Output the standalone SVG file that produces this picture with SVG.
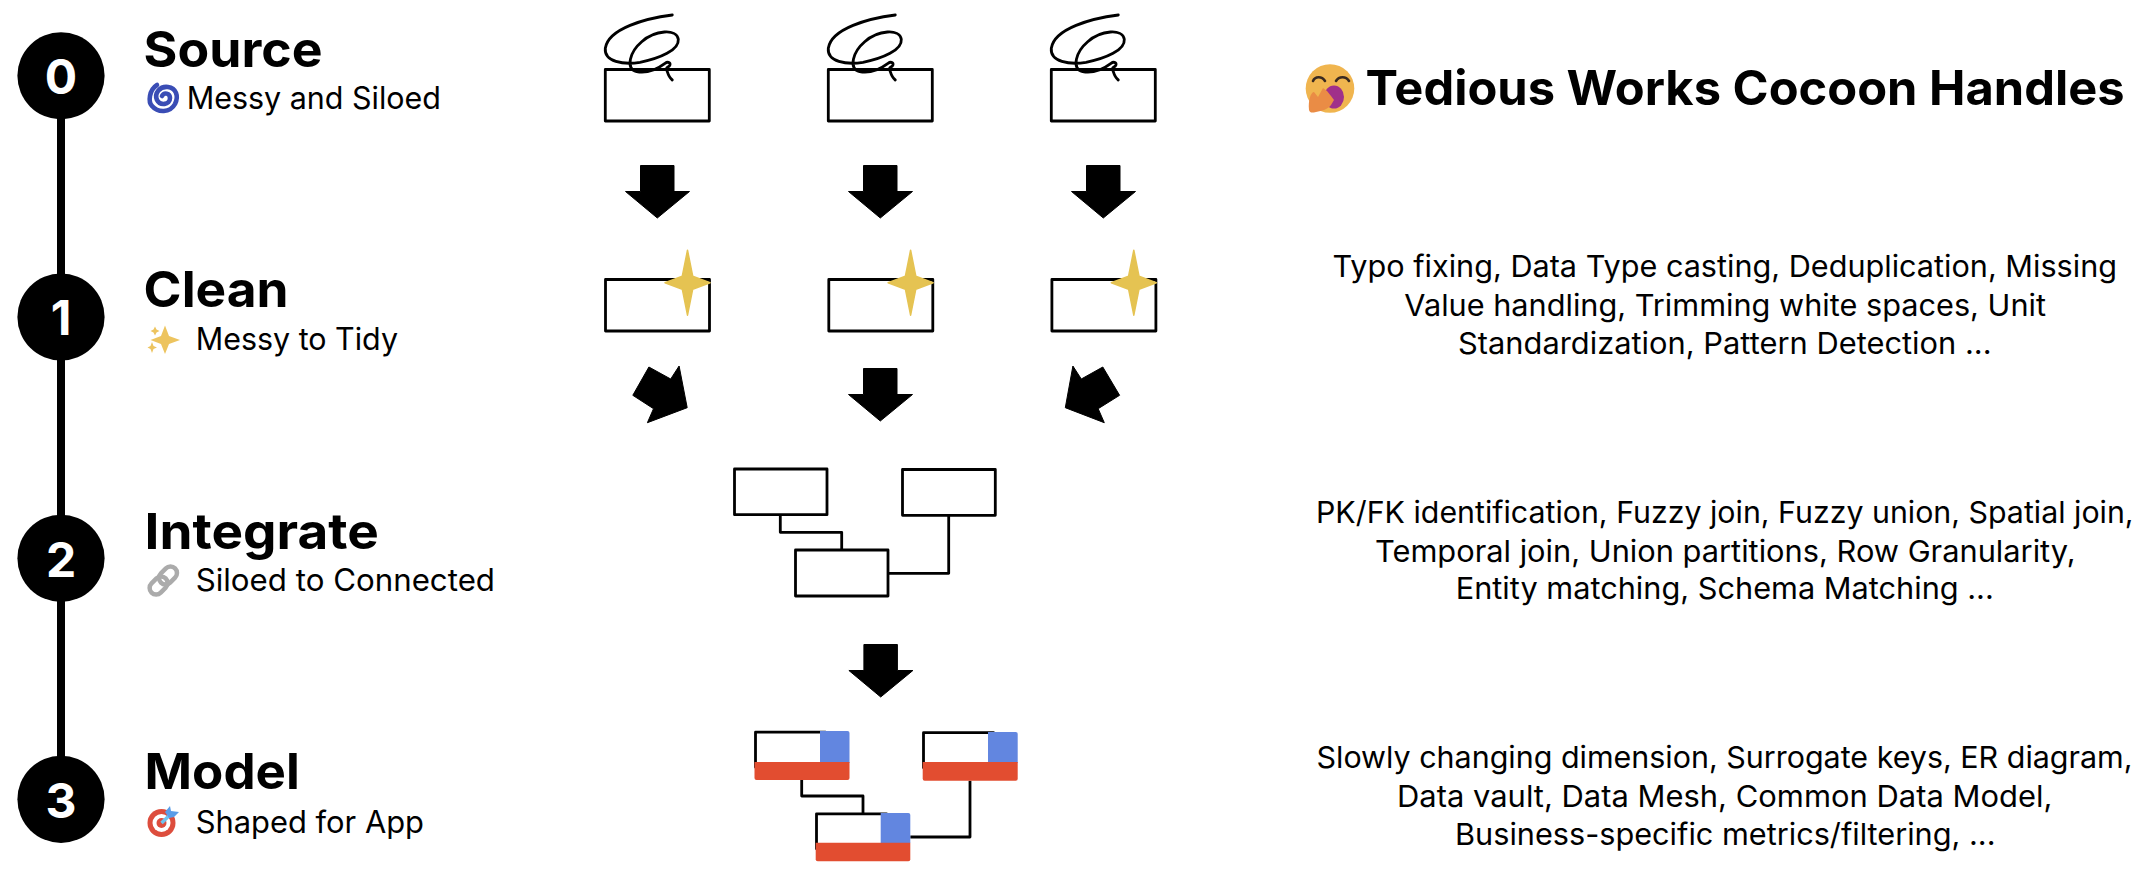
<svg xmlns="http://www.w3.org/2000/svg" xmlns:xlink="http://www.w3.org/1999/xlink" width="2146" height="878" viewBox="0 0 2146 878">
<style>
text{font-family:"Inter","Noto Sans","Liberation Sans",sans-serif;fill:#000}
.num{font-size:48px;font-weight:700;fill:#fff;text-anchor:middle}
.title{font-size:50px;font-weight:700}
.sub{font-size:31px;font-weight:400}
.head{font-size:48px;font-weight:700}
.desc{font-size:30px;font-weight:400}
.box{fill:#fff;stroke:#000;stroke-width:2.8;stroke-linejoin:round}
.wire{fill:none;stroke:#000;stroke-width:2.8;stroke-linejoin:round}
.arrow{fill:#000;stroke:#000;stroke-width:1;stroke-linejoin:round}
.star{fill:#E5C352;stroke:#E5C352;stroke-width:1.5;stroke-linejoin:round}
.blue{fill:#6286E0}
.red{fill:#E24D30}
</style>
<defs>
<path id="scribble" fill="none" stroke="#000" stroke-width="2.8" stroke-linecap="round" d="M672.300 15C646 18.300 608.300 28.300 605.300 48.300C604 61.700 623.300 65 640 62.300C660 58.300 679.300 50 678.300 39.300C676.700 28.300 655 30 641.700 41.700C630 51.700 625 68.300 636.700 71.700C648.300 74 658.300 68.300 665 63.300C668.300 61 671.700 63.300 669.300 66C667.300 68.300 665 66.700 667.300 71.700C668.300 75 670 78.300 672.300 80"/>
<path id="arrow-down" class="arrow" d="M640.500 165.500H674V191.500H689.500L657.300 218L625.500 191.500H640.500Z"/>
<path id="star4" class="star" d="M0-32.500L5.200-6.500L22.500 0L5.200 6.500L0 32.500L-5.200 6.500L-22.500 0L-5.200-6.500Z"/>
</defs>

<g id="connectors">
<line id="timeline" x1="61" y1="76" x2="61" y2="799" stroke="#000" stroke-width="8"/>
<use id="arrow-s-1" xlink:href="#arrow-down" href="#arrow-down"/>
<use id="arrow-s-2" xlink:href="#arrow-down" href="#arrow-down" x="223"/>
<use id="arrow-s-3" xlink:href="#arrow-down" href="#arrow-down" x="446"/>
<path id="arrow-c-1" class="arrow" d="M648.900 367L670.700 379L679.100 366L687.200 407.700L647.400 422.700L653.500 408.700L632.800 395.300Z"/>
<use id="arrow-c-2" xlink:href="#arrow-down" href="#arrow-down" x="223" y="203"/>
<path id="arrow-c-3" class="arrow" d="M1102.800 367L1081.300 379L1072.900 366L1065.300 407.700L1104.300 422.700L1098.200 408.700L1119.600 395.300Z"/>
<use id="arrow-i" xlink:href="#arrow-down" href="#arrow-down" x="223.400" y="479"/>
<path id="wire-i-a" class="wire" d="M780.300 514.700V532.300H841.700V550"/>
<path id="wire-i-b" class="wire" d="M948.700 515.300V573.300H888"/>
<path id="wire-m-a" class="wire" d="M801.700 780V796H863V813.300"/>
<path id="wire-m-b" class="wire" d="M970 780.700V837H910.300"/>
</g>

<g id="step-0">
<circle cx="61" cy="75.800" r="43.600" fill="#000"/>
<text class="num" x="61" y="94.300">0</text>
<text class="title" x="143.600" y="66.700" textLength="179" lengthAdjust="spacingAndGlyphs">Source</text>
<g id="icon-spiral" fill="none" stroke="#3A4DB5" stroke-linecap="round">
<path stroke-width="4.600" d="M157 85C149 90 148 102 152 106C158 113 170 113 175 104C179 96 176 88 168 87C160 86 154 93 157 100C160 106 170 105 170 98C170 93 164 92 162 96"/>
</g>
<text class="sub" x="186.700" y="109.300" textLength="254.300" lengthAdjust="spacingAndGlyphs">Messy and Siloed</text>
</g>

<g id="step-1">
<circle cx="61" cy="317" r="43.600" fill="#000"/>
<text class="num" x="61" y="335.300">1</text>
<text class="title" x="143.600" y="307.300" textLength="145" lengthAdjust="spacingAndGlyphs">Clean</text>
<g id="icon-sparkles" fill="#EDC45F">
<path d="M165 325.500L169 336L180 340L169 344L165 354L161 344L150.500 340L161 336Z"/>
<path d="M155 326.500L156.500 329.500L159.500 331L156.500 332.500L155 335.500L153.500 332.500L150.500 331L153.500 329.500Z"/>
<path d="M152 342L153.500 346L157 347.500L153.500 349L152 353L150.500 349L147.500 347.500L150.500 346Z"/>
</g>
<text class="sub" x="195.700" y="350" textLength="202.300" lengthAdjust="spacingAndGlyphs">Messy to Tidy</text>
</g>

<g id="step-2">
<circle cx="61" cy="558.300" r="43.600" fill="#000"/>
<text class="num" x="61" y="576.700">2</text>
<text class="title" x="144.600" y="548.700" textLength="234.200" lengthAdjust="spacingAndGlyphs">Integrate</text>
<g id="icon-link" fill="none" stroke="#ABABAB" stroke-width="4.500">
<rect x="-10" y="-6.500" width="20" height="13" rx="6.500" transform="translate(158.600 585.500) rotate(-45)"/>
<rect x="-10" y="-6.500" width="20" height="13" rx="6.500" transform="translate(168 575.500) rotate(-45)"/>
</g>
<text class="sub" x="195.700" y="591.300" textLength="299.300" lengthAdjust="spacingAndGlyphs">Siloed to Connected</text>
</g>

<g id="step-3">
<circle cx="61" cy="799.300" r="43.600" fill="#000"/>
<text class="num" x="61" y="817.700">3</text>
<text class="title" x="144.600" y="789.300" textLength="155.200" lengthAdjust="spacingAndGlyphs">Model</text>
<g id="icon-target">
<circle cx="161.500" cy="823" r="14" fill="#DD4D3D"/>
<circle cx="161.500" cy="823" r="9" fill="#fff"/>
<circle cx="161.500" cy="823" r="5" fill="#DD4D3D"/>
<path d="M161.500 823L172 813" stroke="#6FC3F0" stroke-width="3.500"/>
<path d="M165 812L170 806L171 811L179 812L174 817L169 818Z" fill="#5B9DE8"/>
</g>
<text class="sub" x="195.700" y="832.700" textLength="228.300" lengthAdjust="spacingAndGlyphs">Shaped for App</text>
</g>

<g id="source-tables">
<g id="source-1"><rect class="box" x="605.300" y="69.500" width="104" height="51.500"/><use xlink:href="#scribble" href="#scribble"/></g>
<g id="source-2"><rect class="box" x="828.300" y="69.500" width="104" height="51.500"/><use xlink:href="#scribble" href="#scribble" x="223"/></g>
<g id="source-3"><rect class="box" x="1051.300" y="69.500" width="104" height="51.500"/><use xlink:href="#scribble" href="#scribble" x="446"/></g>
</g>

<g id="clean-tables">
<g id="clean-1"><rect class="box" x="605.500" y="279.500" width="104" height="51.500"/><use xlink:href="#star4" href="#star4" x="687.500" y="282.700"/></g>
<g id="clean-2"><rect class="box" x="828.800" y="279.500" width="104" height="51.500"/><use xlink:href="#star4" href="#star4" x="910.600" y="282.700"/></g>
<g id="clean-3"><rect class="box" x="1051.900" y="279.500" width="104" height="51.500"/><use xlink:href="#star4" href="#star4" x="1133.800" y="282.700"/></g>
</g>

<g id="integrate-tables">
<rect id="integrate-a" class="box" x="734.500" y="469" width="92.500" height="45.700"/>
<rect id="integrate-b" class="box" x="902.500" y="469.500" width="92.800" height="45.800"/>
<rect id="integrate-c" class="box" x="795.500" y="550" width="92.500" height="46"/>
</g>

<g id="model-a">
<rect class="box" x="755.500" y="732.200" width="70" height="35"/>
<path class="blue" d="M820 731H847.500a2 2 0 0 1 2 2V763H820Z"/>
<path class="red" d="M754.500 762H849.500V778a2 2 0 0 1-2 2H756.500a2 2 0 0 1-2-2Z"/>
</g>
<g id="model-b">
<rect class="box" x="923.500" y="732.700" width="70" height="35"/>
<path class="blue" d="M988 732H1015.700a2 2 0 0 1 2 2V763H988Z"/>
<path class="red" d="M922.700 762H1017.700V778.700a2 2 0 0 1-2 2H924.700a2 2 0 0 1-2-2Z"/>
</g>
<g id="model-c">
<rect class="box" x="816.500" y="813.800" width="70" height="35"/>
<path class="blue" d="M880.700 813H908.300a2 2 0 0 1 2 2V843H880.700Z"/>
<path class="red" d="M815.700 842.700H910.300V859.300a2 2 0 0 1-2 2H817.700a2 2 0 0 1-2-2Z"/>
</g>

<g id="header">
<g id="icon-yawn">
<circle cx="1330" cy="88.500" r="24.300" fill="#F0B54F"/>
<path d="M1313 81C1315 76 1322 76 1325 81M1336 81C1339 76 1346 76 1349 81" fill="none" stroke="#3A2A20" stroke-width="2.600" stroke-linecap="round"/>
<ellipse cx="1334" cy="97" rx="10" ry="11.500" fill="#A0308A"/>
<path d="M1309 110C1308 100 1311 92 1314 92L1318 97L1323 88L1327 91L1331 96L1334 100L1331 105C1328 109 1322 111 1316 112C1312 113 1310 113 1309 110Z" fill="#EA8C45"/>
</g>
<text class="head" x="1365.600" y="105" textLength="759" lengthAdjust="spacingAndGlyphs">Tedious Works Cocoon Handles</text>
</g>

<g id="desc-clean">
<text class="desc" x="1332.500" y="277" textLength="784.500" lengthAdjust="spacingAndGlyphs">Typo fixing, Data Type casting, Deduplication, Missing</text>
<text class="desc" x="1404.300" y="316" textLength="641.700" lengthAdjust="spacingAndGlyphs">Value handling, Trimming white spaces, Unit</text>
<text class="desc" x="1458" y="354" textLength="533.600" lengthAdjust="spacingAndGlyphs">Standardization, Pattern Detection ...</text>
</g>
<g id="desc-integrate">
<text class="desc" x="1316" y="522.700" textLength="817.600" lengthAdjust="spacingAndGlyphs">PK/FK identification, Fuzzy join, Fuzzy union, Spatial join,</text>
<text class="desc" x="1375" y="561.700" textLength="700.600" lengthAdjust="spacingAndGlyphs">Temporal join, Union partitions, Row Granularity,</text>
<text class="desc" x="1455.700" y="599.300" textLength="538.100" lengthAdjust="spacingAndGlyphs">Entity matching, Schema Matching ...</text>
</g>
<g id="desc-model">
<text class="desc" x="1316.500" y="768.300" textLength="816" lengthAdjust="spacingAndGlyphs">Slowly changing dimension, Surrogate keys, ER diagram,</text>
<text class="desc" x="1397" y="806.700" textLength="655.400" lengthAdjust="spacingAndGlyphs">Data vault, Data Mesh, Common Data Model,</text>
<text class="desc" x="1455" y="845" textLength="540.500" lengthAdjust="spacingAndGlyphs">Business-specific metrics/filtering, ...</text>
</g>
</svg>
